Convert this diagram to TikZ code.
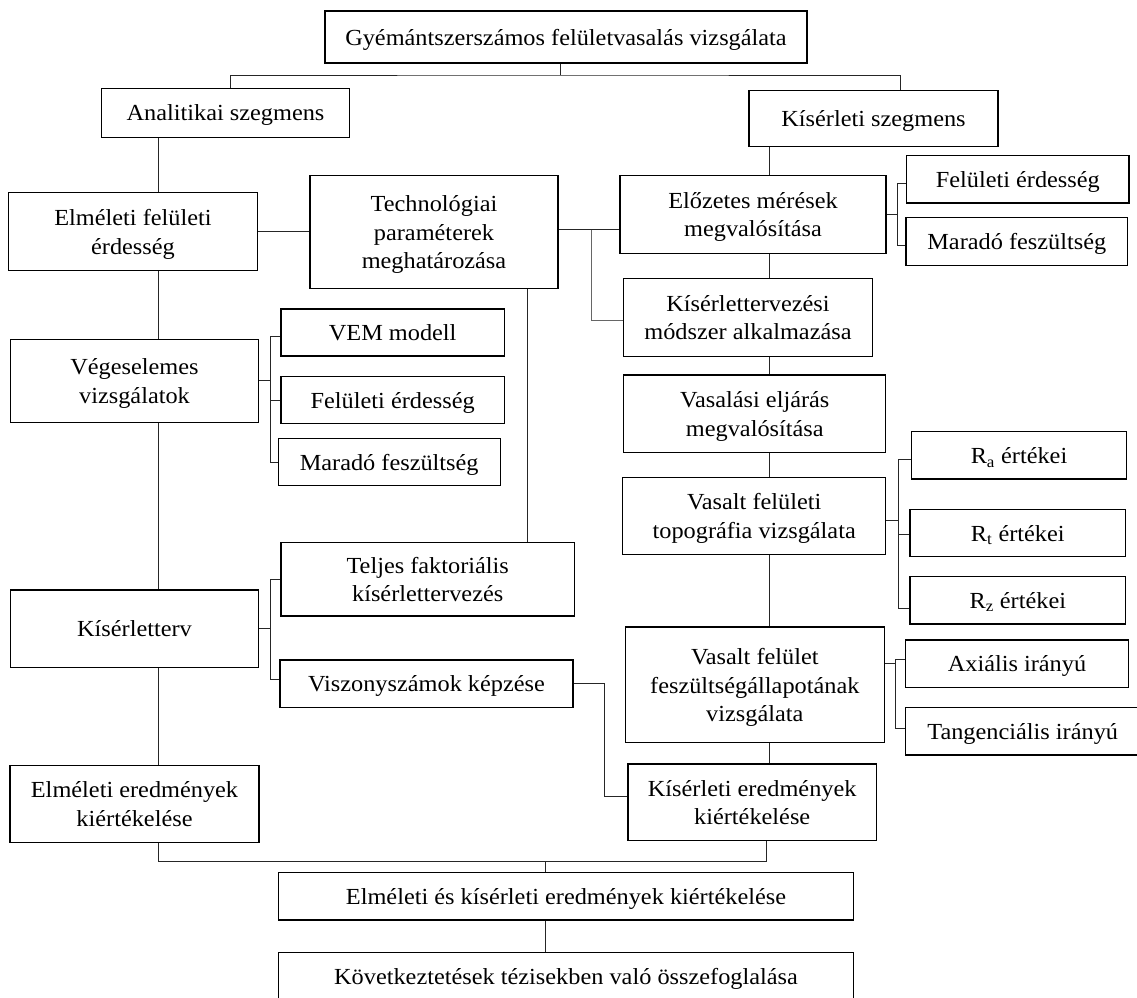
\documentclass[tikz,border=0pt]{standalone}
\usepackage{fontspec}
\setmainfont{Liberation Serif}[FakeStretch=1.057]
\begin{document}
\begin{tikzpicture}[x=1pt,y=-1pt,
  box/.style={draw=black, line width=1.2pt, inner sep=0pt, align=center, anchor=center, fill=white,
    text depth=0pt, font=\fontsize{23pt}{28.5pt}\selectfont},
  conn/.style={draw=black!85, line width=1pt},
  branch/.style={draw=black!60, line width=1pt}]
\useasboundingbox (0,0) rectangle (1137,997);
\clip (0,0) rectangle (1137,997);
\fill[white] (0,0) rectangle (1137,997);

% nodes
\node[box,minimum width=482pt,minimum height=52pt] (top) at (566,37) {Gyémántszerszámos felületvasalás vizsgálata};
\node[box,minimum width=248pt,minimum height=48.6pt] (anal) at (225.5,113) {Analitikai szegmens};
\node[box,minimum width=249pt,minimum height=56pt] (kis) at (873.5,118.7) {Kísérleti szegmens};
\node[box,minimum width=249pt,minimum height=78pt] (elm) at (133,231.7) {Elméleti felületi\\érdesség};
\node[box,minimum width=248pt,minimum height=113pt] (tech) at (434,232.2) {Technológiai\\paraméterek\\meghatározása};
\node[box,minimum width=266pt,minimum height=77.6pt] (elo) at (753,214.5) {Előzetes mérések\\megvalósítása};
\node[box,minimum width=222.5pt,minimum height=47.3pt] (fe1) at (1017.8,179.4) {Felületi érdesség};
\node[box,minimum width=221.6pt,minimum height=48pt] (mf1) at (1016.8,241.7) {Maradó feszültség};
\node[box,minimum width=248.8pt,minimum height=78.4pt] (kt) at (748,317.5) {Kísérlettervezési\\módszer alkalmazása};
\node[box,minimum width=248.4pt,minimum height=83pt] (veg) at (134.5,380.8) {Végeselemes\\vizsgálatok};
\node[box,minimum width=223.4pt,minimum height=47pt] (vem) at (392.7,332.5) {VEM modell};
\node[box,minimum width=223.4pt,minimum height=47.4pt] (fe2) at (392.7,400) {Felületi érdesség};
\node[box,minimum width=222pt,minimum height=47.4pt] (mf2) at (389.2,462) {Maradó feszültség};
\node[box,minimum width=262pt,minimum height=77.7pt] (vas) at (754.8,413.9) {Vasalási eljárás\\megvalósítása};
\node[box,minimum width=263pt,minimum height=76.6pt] (topo) at (754.2,516) {Vasalt felületi\\topográfia vizsgálata};
\node[box,minimum width=215.5pt,minimum height=47.3pt] (ra) at (1019,455.4) {R\textsubscript{a} értékei};
\node[box,minimum width=215.6pt,minimum height=47.4pt] (rt) at (1017.8,533) {R\textsubscript{t} értékei};
\node[box,minimum width=215.6pt,minimum height=47.7pt] (rz) at (1017.8,600.2) {R\textsubscript{z} értékei};
\node[box,minimum width=293.4pt,minimum height=73.7pt] (telj) at (427.7,579.2) {Teljes faktoriális\\kísérlettervezés};
\node[box,minimum width=248.4pt,minimum height=77.7pt] (kisterv) at (134.5,628.9) {Kísérletterv};
\node[box,minimum width=293pt,minimum height=47.3pt] (visz) at (426.5,683.7) {Viszonyszámok képzése};
\node[box,minimum width=259pt,minimum height=115.7pt] (vf) at (754.8,684.9) {Vasalt felület\\feszültségállapotának\\vizsgálata};
\node[box,minimum width=223.4pt,minimum height=47.7pt] (ax) at (1017,663.9) {Axiális irányú};
\node[box,minimum width=234.8pt,minimum height=47.7pt] (tan) at (1022.7,731.2) {Tangenciális irányú};
\node[box,minimum width=249pt,minimum height=76.6pt] (eerd) at (134.5,804) {Elméleti eredmények\\kiértékelése};
\node[box,minimum width=248.3pt,minimum height=76.7pt] (kerd) at (752.2,802.4) {Kísérleti eredmények\\kiértékelése};
\node[box,minimum width=575pt,minimum height=47.7pt] (ek) at (566,896.2) {Elméleti és kísérleti eredmények kiértékelése};
\node[box,minimum width=575pt,minimum height=47.7pt] (kov) at (566,976.5) {Következtetések tézisekben való összefoglalása};

% helper coordinates
\coordinate (j1) at (560.5,75);
\coordinate (cA) at (158.5,0);
\coordinate (ty) at (591,229.5);
\coordinate (cT) at (527,0);
\coordinate (cK) at (769,0);
\coordinate (b1) at (897,0);
\coordinate (b2) at (270,0);
\coordinate (b3) at (270.6,0);
\coordinate (b4) at (898,0);
\coordinate (b5) at (895.3,0);
\coordinate (b6) at (604,0);
\coordinate (cR) at (766.5,0);
\coordinate (jb) at (545,861.7);

% connectors
\draw[conn] (top.south -| j1) -- (j1);
\draw[conn] ([xshift=5pt]anal.north) |- (j1) -| ([xshift=27pt]kis.north);
\draw[conn] (anal.south -| cA) -- (elm.north -| cA);
\draw[conn] (elm.south -| cA) -- (veg.north -| cA);
\draw[conn] (veg.south -| cA) -- (kisterv.north -| cA);
\draw[conn] (kisterv.south -| cA) -- (eerd.north -| cA);
\draw[conn] (elm.east) -- (elm.east -| tech.west);
\draw[conn] (tech.east |- ty) -- (elo.west |- ty);
\draw[branch] (ty) |- ([yshift=-3pt]kt.west);
\draw[conn] (tech.south -| cT) -- (telj.north -| cT);
\draw[conn] (kis.south -| cK) -- (elo.north -| cK);
\draw[conn] (elo.south -| cK) -- (kt.north -| cK);
\draw[conn] (kt.south -| cK) -- (vas.north -| cK);
\draw[conn] (vas.south -| cK) -- (topo.north -| cK);
\draw[conn] (topo.south -| cK) -- (vf.north -| cK);
\draw[conn] (vf.south -| cK) -- (kerd.north -| cK);

% brackets
\draw[conn] (elo.east) -- (elo.east -| b1);
\draw[conn] ([yshift=-4pt]fe1.west) -| ([yshift=-4pt]mf1.west -| b1) -- ([yshift=-4pt]mf1.west);

\draw[conn] (veg.east) -- (veg.east -| b2);
\draw[conn] ([yshift=-4pt]vem.west) -| (mf2.west -| b2) -- (mf2.west);
\draw[conn] (fe2.west) -- (fe2.west -| b2);

\draw[conn] (kisterv.east) -- (kisterv.east -| b3);
\draw[conn] (telj.west) -| ([yshift=4pt]visz.west -| b3) -- ([yshift=4pt]visz.west);

\draw[conn] ([yshift=-4pt]topo.east) -- ([yshift=-4pt]topo.east -| b4);
\draw[conn] ([yshift=-4pt]ra.west) -| ([yshift=-8pt]rz.west -| b4) -- ([yshift=-8pt]rz.west);
\draw[conn] ([yshift=-1pt]rt.west) -- ([yshift=-1pt]rt.west -| b4);

\draw[conn] ([yshift=21.5pt]vf.east) -- ([yshift=21.5pt]vf.east -| b5);
\draw[conn] ([yshift=4.8pt]ax.west) -| ([yshift=3pt]tan.west -| b5) -- ([yshift=3pt]tan.west);

\draw[conn] (visz.east) -| ([yshift=5.6pt]kerd.west -| b6) -- ([yshift=5.6pt]kerd.west);

\draw[conn] (eerd.south -| cA) |- (jb) -| (kerd.south -| cR);
\draw[conn] (jb) -- (ek.north -| jb);
\draw[conn] (ek.south -| jb) -- (kov.north -| jb);
\end{tikzpicture}
\end{document}
